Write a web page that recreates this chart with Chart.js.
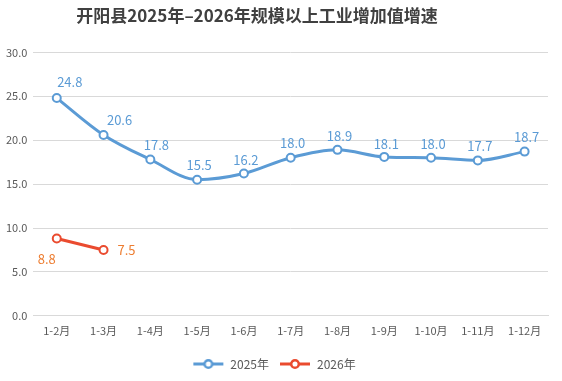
<!DOCTYPE html>
<html>
<head>
<meta charset="utf-8">
<script src="https://cdn.jsdelivr.net/npm/chart.js@4"></script>
<style>
  body { margin: 0; background: #fff; }
  #wrap { width: 562px; height: 381px; }
</style>
</head>
<body>
<div id="wrap"><canvas id="line-chart" width="562" height="381"></canvas></div>
<script>
var months = ["1-2月", "1-3月", "1-4月", "1-5月", "1-6月", "1-7月", "1-8月", "1-9月", "1-10月", "1-11月", "1-12月"];
var growth2025 = [24.8, 20.6, 17.8, 15.5, 16.2, 18.0, 18.9, 18.1, 18.0, 17.7, 18.7];
var growth2026 = [8.8, 7.5];
var yTicks = [0, 5, 10, 15, 20, 25, 30];

var font = "'Noto Sans CJK SC', 'Open Sans', sans-serif";

// where each value label sits relative to its point
var offs2025 = [[13, -16], [16, -15], [6, -14], [2, -15], [2, -14], [2, -15], [2, -14], [2, -13], [2, -14], [2, -14], [2, -15]];
var offs2026 = [[-10, 21], [23, 0]];

function legendIcon(color) {
    var c = document.createElement('canvas');
    c.width = 32; c.height = 12;
    var g = c.getContext('2d');
    g.strokeStyle = color; g.lineWidth = 3;
    g.beginPath(); g.moveTo(1, 6); g.lineTo(31, 6); g.stroke();
    g.fillStyle = '#fff'; g.lineWidth = 2.5;
    g.beginPath(); g.arc(16, 6, 3.8, 0, Math.PI * 2); g.fill(); g.stroke();
    return c;
}

var valueLabels = {
    id: 'valueLabels',
    afterDatasetsDraw: function (chart) {
        var ctx = chart.ctx;
        ctx.save();
        ctx.font = "13px " + font;
        ctx.textAlign = 'center';
        ctx.textBaseline = 'middle';
        chart.data.datasets.forEach(function (ds, i) {
            var meta = chart.getDatasetMeta(i);
            var offs = i === 0 ? offs2025 : offs2026;
            ctx.fillStyle = i === 0 ? '#5b9bd5' : '#ed7d31';
            meta.data.forEach(function (pt, j) {
                ctx.fillText(ds.data[j].toFixed(1), pt.x + offs[j][0], pt.y + offs[j][1]);
            });
        });
        ctx.restore();
    }
};

var ctx = document.getElementById('line-chart').getContext('2d');
var chart = new Chart(ctx, {
    type: 'line',
    data: {
        labels: months,
        datasets: [{
            label: "2025年",
            data: growth2025,
            borderColor: "#5b9bd5",
            borderWidth: 3,
            pointRadius: 4,
            pointBorderWidth: 2,
            pointBackgroundColor: "#fff",
            pointBorderColor: "#5b9bd5",
            tension: 0.4,
            cubicInterpolationMode: 'monotone',
            fill: false
        }, {
            label: "2026年",
            data: growth2026,
            borderColor: "#ea4b2f",
            borderWidth: 3,
            pointRadius: 4,
            pointBorderWidth: 2,
            pointBackgroundColor: "#fff",
            pointBorderColor: "#ea4b2f",
            fill: false
        }]
    },
    options: {
        responsive: false,
        animation: false,
        layout: { padding: { left: 0, right: 14, top: 0, bottom: 1 } },
        plugins: {
            title: {
                display: true,
                // trailing ideographic spaces nudge the centred title left, as in the original
                text: '开阳县2025年–2026年规模以上工业增加值增速\u3000\u3000',
                color: '#404040',
                font: { family: font, size: 17, weight: 'bold' },
                padding: { top: 5, bottom: 27 }
            },
            legend: {
                position: 'bottom',
                labels: {
                    color: '#595959',
                    font: { family: font, size: 12 },
                    usePointStyle: true,
                    pointStyleWidth: 32,
                    boxHeight: 12,
                    padding: 10,
                    generateLabels: function (ch) {
                        return ch.data.datasets.map(function (ds, i) {
                            return {
                                text: ds.label,
                                pointStyle: legendIcon(ds.borderColor),
                                fontColor: '#595959',
                                datasetIndex: i,
                                lineWidth: 0
                            };
                        });
                    }
                }
            },
            tooltip: { enabled: false }
        },
        scales: {
            x: {
                offset: true,
                grid: { display: false, drawTicks: false },
                border: { color: '#d9d9d9' },
                ticks: { color: '#595959', font: { family: font, size: 11 }, padding: 8 },
                afterFit: function (axis) { axis.height += 3; }
            },
            y: {
                min: 0,
                max: 30,
                afterBuildTicks: function (axis) {
                    axis.ticks = yTicks.map(function (v) { return { value: v }; });
                },
                grid: { color: '#d9d9d9', drawTicks: false },
                border: { display: false },
                ticks: {
                    color: '#595959',
                    font: { family: font, size: 11 },
                    padding: 6,
                    callback: function (v) { return v.toFixed(1); }
                }
            }
        }
    },
    plugins: [valueLabels]
});
</script>
</body>
</html>
